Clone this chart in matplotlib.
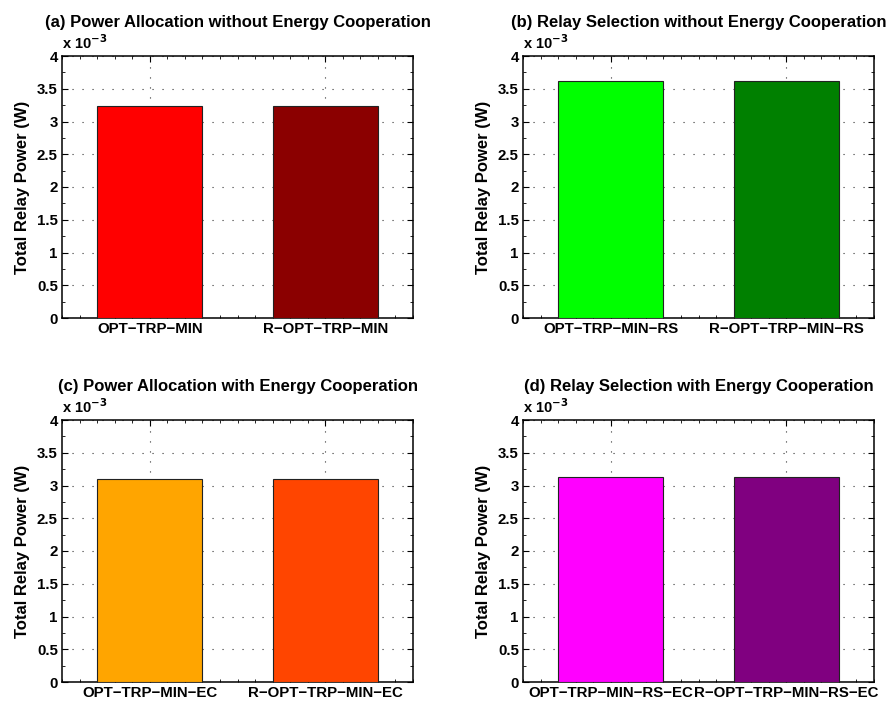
import matplotlib
matplotlib.use("Agg")
import matplotlib.pyplot as plt
from matplotlib.ticker import MultipleLocator, FuncFormatter

plt.rcParams['font.family'] = ['Liberation Sans', 'DejaVu Sans']
plt.rcParams['font.weight'] = 'bold'

titles = [
    "(a) Power Allocation without Energy Cooperation",
    "(b) Relay Selection without Energy Cooperation",
    "(c) Power Allocation with Energy Cooperation",
    "(d) Relay Selection with Energy Cooperation",
]
labels_a = ["OPT\u2212TRP\u2212MIN", "R\u2212OPT\u2212TRP\u2212MIN"]
labels_b = ["OPT\u2212TRP\u2212MIN\u2212RS", "R\u2212OPT\u2212TRP\u2212MIN\u2212RS"]
labels_c = ["OPT\u2212TRP\u2212MIN\u2212EC", "R\u2212OPT\u2212TRP\u2212MIN\u2212EC"]
labels_d = ["OPT\u2212TRP\u2212MIN\u2212RS\u2212EC", "R\u2212OPT\u2212TRP\u2212MIN\u2212RS\u2212EC"]
values_a = [3.23e-3, 3.23e-3]
values_b = [3.62e-3, 3.62e-3]
values_c = [3.10e-3, 3.10e-3]
values_d = [3.13e-3, 3.13e-3]
colors_a = ["#FF0000", "#8B0000"]
colors_b = ["#00FF00", "#008000"]
colors_c = ["#FFA500", "#FF4500"]
colors_d = ["#FF00FF", "#800080"]

W, H = 890, 703
fig = plt.figure(figsize=(W / 100, H / 100), dpi=100)

# axes boxes in pixels: left, top, right, bottom
boxes = [(62, 56, 413, 318), (523, 56, 874, 318), (62, 420, 413, 682), (523, 420, 874, 682)]
panels = [(labels_a, values_a, colors_a), (labels_b, values_b, colors_b),
          (labels_c, values_c, colors_c), (labels_d, values_d, colors_d)]

for (l, t, r, b), title, (labs, vals, cols) in zip(boxes, titles, panels):
    ax = fig.add_axes([l / W, 1 - b / H, (r - l) / W, (b - t) / H])
    x = [1, 2]
    ax.bar(x, vals, width=0.6, color=cols, edgecolor="#222222", linewidth=0.8, zorder=3)
    ax.set_xlim(0.5, 2.5)
    ax.set_ylim(0, 4e-3)
    ax.set_xticks(x)
    ax.set_xticklabels(labs, fontsize=10.8, fontweight='bold')
    ax.yaxis.set_major_locator(MultipleLocator(0.5e-3))
    ax.yaxis.set_minor_locator(MultipleLocator(0.25e-3))
    ax.xaxis.set_minor_locator(MultipleLocator(0.1))
    ax.yaxis.set_major_formatter(FuncFormatter(lambda v, p: ("%g" % round(v * 1e3, 3))))
    for lab in ax.get_yticklabels():
        lab.set_fontsize(10.8)
        lab.set_fontweight('bold')
    ax.tick_params(which='both', direction='in', top=True, right=True)
    ax.tick_params(which='major', length=4, width=0.8, pad=3)
    ax.tick_params(which='minor', length=2, width=0.6)
    ax.grid(True, which='major', linestyle=(0, (1, 8)), color='#333333', linewidth=0.8, zorder=0)
    ax.set_axisbelow(True)
    for s in ax.spines.values():
        s.set_linewidth(1.1)
    ax.set_ylabel("Total Relay Power (W)", fontsize=12, fontweight='bold', labelpad=5)
    ax.set_title(title, fontsize=12, fontweight='bold', pad=21)
    ax.text(0.0, 1.015, r"x 10$^{\mathbf{-3}}$", transform=ax.transAxes, ha='left', va='bottom',
            fontsize=10.5, fontweight='bold')

fig.savefig("out.png", dpi=100)
